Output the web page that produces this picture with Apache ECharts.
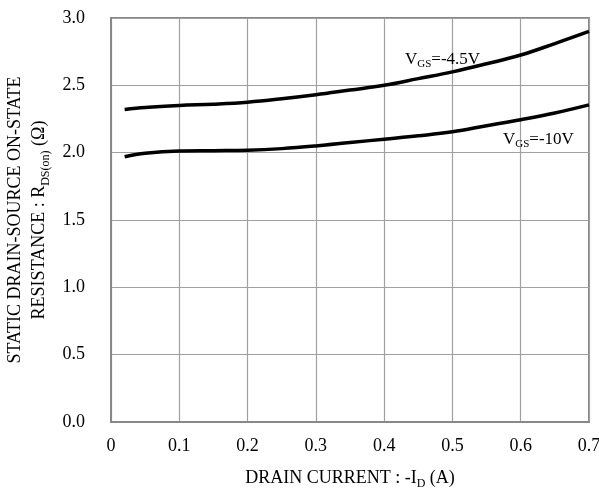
<!DOCTYPE html>
<html>
<head>
<meta charset="utf-8">
<script src="https://cdn.jsdelivr.net/npm/echarts@6/dist/echarts.min.js"></script>
<style>
html,body{margin:0;padding:0;background:#fff;}
#chart{width:599px;height:488px;}
</style>
</head>
<body>
<div id="chart"></div>
<script>
// Data
const drainCurrent = [0.02, 0.05, 0.1, 0.15, 0.2, 0.25, 0.3, 0.35, 0.4, 0.45, 0.5, 0.55, 0.6, 0.65, 0.7];
const rdsVgs4p5 = [2.32, 2.335, 2.35, 2.36, 2.375, 2.40, 2.43, 2.465, 2.50, 2.55, 2.60, 2.66, 2.725, 2.81, 2.90];
const rdsVgs10 = [1.97, 1.995, 2.012, 2.015, 2.018, 2.03, 2.05, 2.075, 2.10, 2.125, 2.155, 2.20, 2.245, 2.295, 2.355];
const xTicks = [0, 0.1, 0.2, 0.3, 0.4, 0.5, 0.6, 0.7];
const yTicks = [0, 0.5, 1.0, 1.5, 2.0, 2.5, 3.0];

const FONT = '"Liberation Serif", "DejaVu Serif", serif';
const chart = echarts.init(document.getElementById('chart'), null, {renderer: 'canvas'});

function pairs(xs, ys) { return xs.map((x, i) => [x, ys[i]]); }

const subRich = {
  t: {fontFamily: FONT, fontSize: 18, color: '#000', lineHeight: 24, verticalAlign: 'middle'},
  s: {fontFamily: FONT, fontSize: 12, color: '#000', lineHeight: 16, verticalAlign: 'bottom'}
};

const option = {
  animation: false,
  backgroundColor: '#fff',
  grid: {left: 111, right: 10, top: 18, bottom: 66, outerBoundsMode: 'none', containLabel: false,
    show: true, borderColor: '#888', borderWidth: 2, backgroundColor: 'transparent'},
  xAxis: {
    type: 'value', min: xTicks[0], max: xTicks[xTicks.length - 1], interval: 0.1,
    name: '{t|DRAIN CURRENT : -I}{s|D}{t| (A)}',
    nameLocation: 'middle', nameGap: 44,
    nameTextStyle: {rich: subRich},
    axisLine: {show: true, lineStyle: {color: '#888', width: 2}},
    axisTick: {show: false},
    axisLabel: {fontFamily: FONT, fontSize: 18, color: '#000', margin: 15,
      formatter: v => v === 0 ? '0' : v.toFixed(1)},
    splitLine: {show: true, lineStyle: {color: '#a0a0a0', width: 1.2}}
  },
  yAxis: {
    type: 'value', min: yTicks[0], max: yTicks[yTicks.length - 1], interval: 0.5,
    name: '{t|STATIC DRAIN-SOURCE ON-STATE}\n{t|RESISTANCE : R}{s|DS(on)}{t| (Ω)}',
    nameLocation: 'middle', nameGap: 55, nameRotate: 90,
    nameTextStyle: {rich: subRich, align: 'center'},
    axisLine: {show: true, lineStyle: {color: '#888', width: 2}},
    axisTick: {show: false},
    axisLabel: {fontFamily: FONT, fontSize: 18, color: '#000', margin: 26,
      formatter: v => v.toFixed(1)},
    splitLine: {show: true, lineStyle: {color: '#a0a0a0', width: 1.2}}
  },
  series: [
    {type: 'line', name: 'VGS=-4.5V', data: pairs(drainCurrent, rdsVgs4p5), smooth: 0.4, showSymbol: false,
      lineStyle: {color: '#000', width: 3.5}, z: 5},
    {type: 'line', name: 'VGS=-10V', data: pairs(drainCurrent, rdsVgs10), smooth: 0.4, showSymbol: false,
      lineStyle: {color: '#000', width: 3.5}, z: 5}
  ],
  graphic: [
    {type: 'text', left: 405, top: 51, z: 10,
      style: {text: '{m|V}{s|GS}{m|=-4.5V}', rich: {
        m: {fontFamily: FONT, fontSize: 17, color: '#000', lineHeight: 20},
        s: {fontFamily: FONT, fontSize: 11, color: '#000', lineHeight: 13, verticalAlign: 'bottom'}
      }}},
    {type: 'text', left: 503, top: 131, z: 10,
      style: {text: '{m|V}{s|GS}{m|=-10V}', rich: {
        m: {fontFamily: FONT, fontSize: 17, color: '#000', lineHeight: 20},
        s: {fontFamily: FONT, fontSize: 11, color: '#000', lineHeight: 13, verticalAlign: 'bottom'}
      }}}
  ]
};
chart.setOption(option);
</script>
</body>
</html>
